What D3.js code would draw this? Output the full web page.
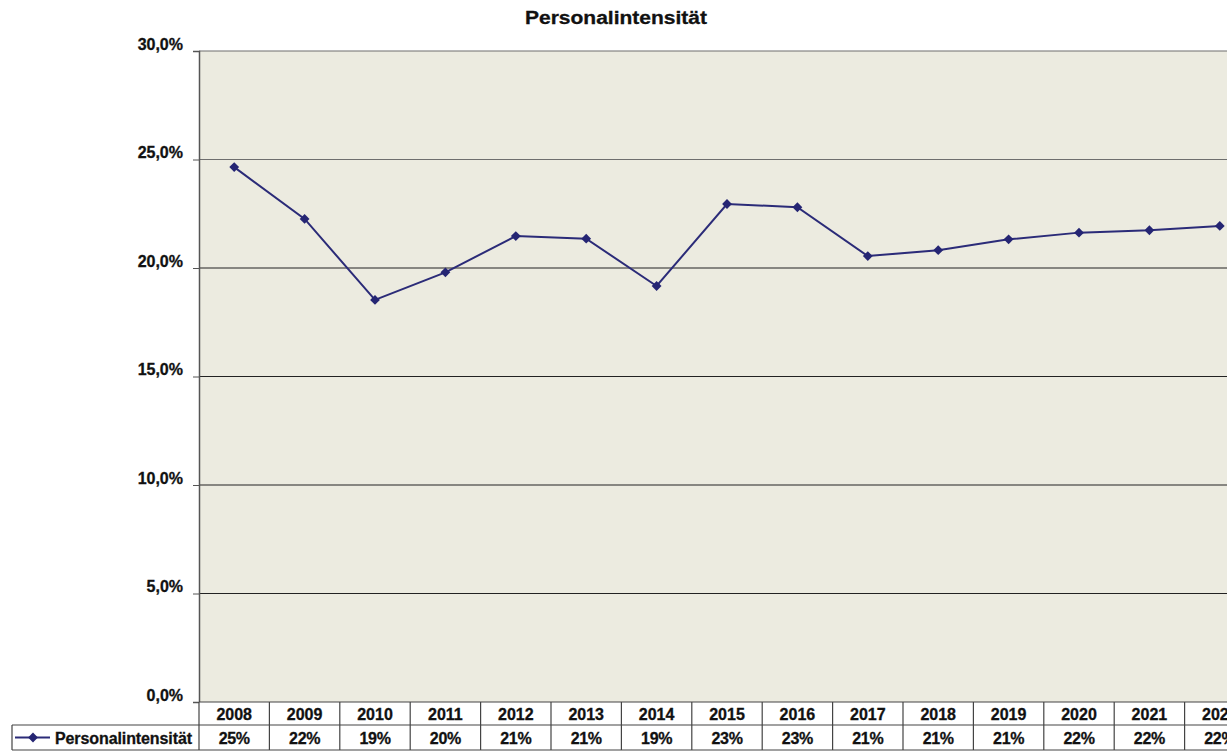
<!DOCTYPE html>
<html>
<head>
<meta charset="utf-8">
<script src="https://cdn.jsdelivr.net/npm/d3@7"></script>
<style>
  body { margin: 0; background: #fff; }
  text { font-family: "Liberation Sans", Arial, sans-serif; font-weight: bold; fill: #111; stroke: #111; stroke-width: 0.3px; }
</style>
</head>
<body>
<div id="chart"></div>
<script>
var width = 1227, height = 752;

// data
var years = ["2008","2009","2010","2011","2012","2013","2014","2015","2016","2017","2018","2019","2020","2021","2022"];
var values = [0.2465, 0.2226, 0.1853, 0.1980, 0.2147, 0.2135, 0.1917, 0.2295, 0.2280, 0.2055, 0.2082, 0.2132, 0.2163, 0.2174, 0.2194];
var tableLabels = ["25%","22%","19%","20%","21%","21%","19%","23%","23%","21%","21%","21%","22%","22%","22%"];
var yTicks = [0, 0.05, 0.10, 0.15, 0.20, 0.25, 0.30];
var seriesName = "Personalintensität";

var plotLeft = 199, plotTop = 51, plotBottom = 702, band = 70.4;
var row1 = 725, row2 = 750;

var svg = d3.select("#chart")
            .append("svg")
            .attr("width", width)
            .attr("height", height);

var x = d3.scaleBand()
          .domain(years)
          .range([plotLeft, plotLeft + band * years.length]);

var y = d3.scaleLinear()
          .domain([0, 0.30])
          .range([plotBottom, plotTop]);

// title
svg.append("text")
   .attr("x", 616).attr("y", 24)
   .attr("text-anchor", "middle")
   .attr("textLength", 182)
   .attr("lengthAdjust", "spacingAndGlyphs")
   .style("font-size", "18px")
   .text("Personalintensität");

// plot area
svg.append("rect")
   .attr("x", plotLeft).attr("y", plotTop)
   .attr("width", x.range()[1] - plotLeft).attr("height", plotBottom - plotTop)
   .attr("fill", "#ecebe0");

// gridlines
svg.selectAll(".grid")
   .data(yTicks.slice(1))
   .enter()
   .append("line")
   .attr("class", "grid")
   .attr("x1", plotLeft).attr("x2", width)
   .attr("y1", function(d) { return y(d); })
   .attr("y2", function(d) { return y(d); })
   .attr("stroke", function(d) { return d >= 0.25 ? "#6e6e6e" : "#222"; })
   .attr("stroke-width", 1.2);

// y axis
var fmt = function(d) { return d3.format(".1f")(d * 100).replace(".", ",") + "%"; };
var yAxis = svg.append("g")
   .attr("transform", "translate(" + plotLeft + ",0)")
   .call(d3.axisLeft(y).tickValues(yTicks).tickSize(6).tickPadding(10).tickFormat(fmt));
yAxis.select(".domain").attr("stroke", "#555").attr("stroke-width", 1.5);
yAxis.selectAll(".tick line").attr("stroke", "#555");
yAxis.selectAll("text")
     .style("font-size", "16px")
     .style("font-family", "Liberation Sans, Arial, sans-serif")
     .style("font-weight", "bold")
     .attr("dy", "-0.1em");

// line
var line = d3.line()
             .x(function(d, i) { return x(years[i]) + x.bandwidth() / 2; })
             .y(function(d) { return y(d); });

svg.append("path")
   .datum(values)
   .attr("d", line)
   .attr("fill", "none")
   .attr("stroke", "#2b2b78")
   .attr("stroke-width", 2);

var diamond = d3.symbol().type(d3.symbolSquare).size(48);
svg.selectAll(".pt")
   .data(values)
   .enter()
   .append("path")
   .attr("class", "pt")
   .attr("d", diamond)
   .attr("transform", function(d, i) {
       return "translate(" + (x(years[i]) + x.bandwidth() / 2) + "," + y(d) + ") rotate(45)";
   })
   .attr("fill", "#252573");

// data table
var table = svg.append("g");
table.append("rect")
     .attr("x", plotLeft).attr("y", plotBottom)
     .attr("width", x.range()[1] - plotLeft).attr("height", row2 - plotBottom)
     .attr("fill", "#fff");
table.append("rect")
     .attr("x", 12).attr("y", row1)
     .attr("width", plotLeft - 12).attr("height", row2 - row1)
     .attr("fill", "#fff");

var tableLine = "#444";
[plotBottom, row1, row2].forEach(function(yy, k) {
    table.append("line")
         .attr("x1", k === 0 ? plotLeft : 12).attr("x2", width)
         .attr("y1", yy).attr("y2", yy)
         .attr("stroke", tableLine).attr("stroke-width", 1.2);
});
table.append("line")
     .attr("x1", 12).attr("x2", 12).attr("y1", row1).attr("y2", row2)
     .attr("stroke", tableLine).attr("stroke-width", 1.2);
table.selectAll(".vcell")
     .data(years)
     .enter()
     .append("line")
     .attr("class", "vcell")
     .attr("x1", function(d) { return x(d); })
     .attr("x2", function(d) { return x(d); })
     .attr("y1", plotBottom).attr("y2", row2)
     .attr("stroke", tableLine).attr("stroke-width", 1.2);

table.selectAll(".year")
     .data(years)
     .enter()
     .append("text")
     .attr("class", "year")
     .attr("x", function(d) { return x(d) + x.bandwidth() / 2; })
     .attr("y", row1 - 5)
     .attr("text-anchor", "middle")
     .style("font-size", "16px")
     .text(function(d) { return d; });

table.selectAll(".val")
     .data(tableLabels)
     .enter()
     .append("text")
     .attr("class", "val")
     .attr("x", function(d, i) { return x(years[i]) + x.bandwidth() / 2; })
     .attr("y", row2 - 6)
     .attr("text-anchor", "middle")
     .style("font-size", "16px")
     .style("letter-spacing", "-0.3px")
     .text(function(d) { return d; });

// legend key in the table
var ly = (row1 + row2) / 2;
table.append("line")
     .attr("x1", 15).attr("x2", 50).attr("y1", ly).attr("y2", ly)
     .attr("stroke", "#2b2b78").attr("stroke-width", 2);
table.append("path")
     .attr("d", diamond)
     .attr("transform", "translate(33," + ly + ") rotate(45)")
     .attr("fill", "#252573");
table.append("text")
     .attr("x", 55).attr("y", row2 - 6)
     .style("font-size", "16px")
     .style("letter-spacing", "-0.1px")
     .text(seriesName);
</script>
</body>
</html>
